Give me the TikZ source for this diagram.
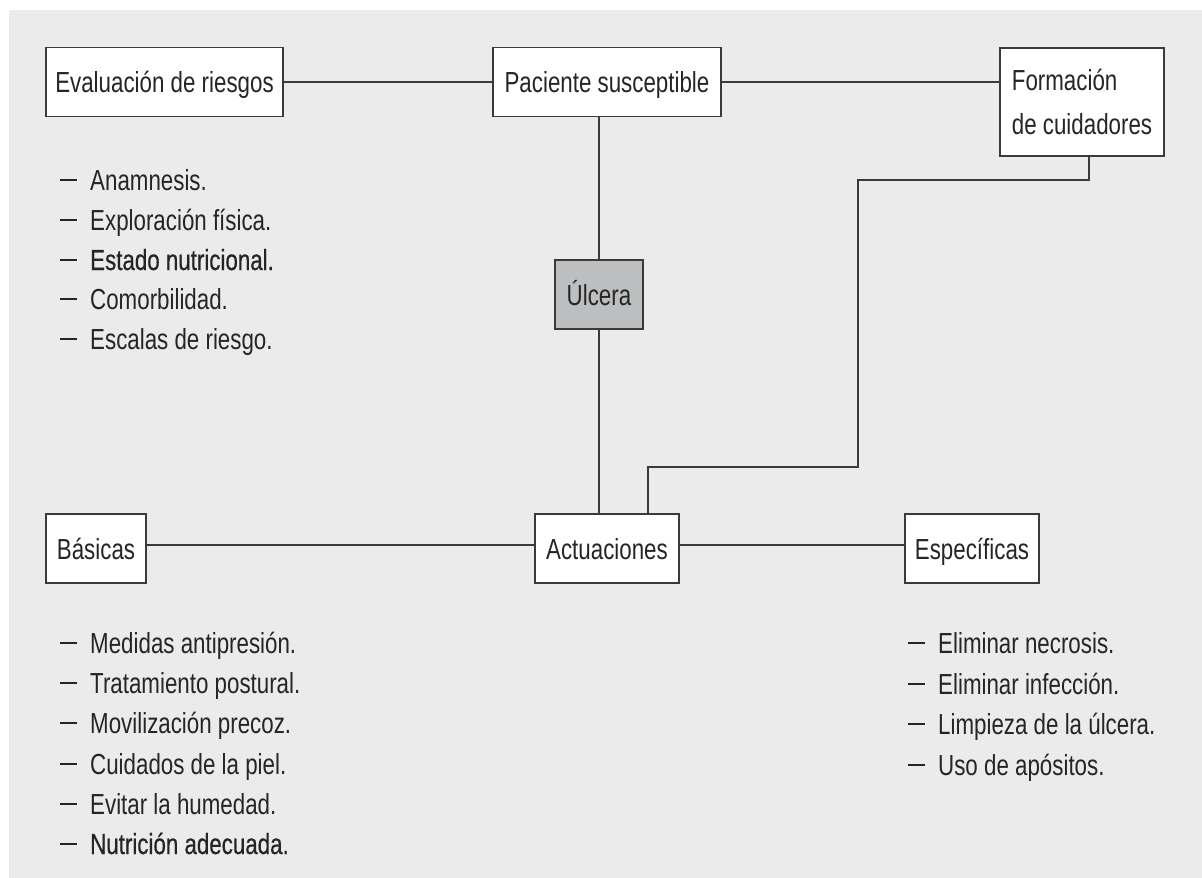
\documentclass[tikz,border=0pt]{standalone}
\usepackage{fontspec}
\setmainfont{Liberation Sans}[FakeStretch=0.77]
\newfontfamily\strongfont{Liberation Sans}[FakeStretch=0.77,FakeBold=0.5]
\definecolor{bg}{HTML}{EBEBEB}
\definecolor{ink}{HTML}{252525}
\definecolor{edge}{HTML}{3A3A3A}
\definecolor{ulcfill}{HTML}{BDBEC0}
\tikzset{
  boxbase/.style={draw=edge, line width=1.8pt, fill=white, inner sep=0pt, text=ink,
    font=\fontsize{29}{44}\selectfont},
  box/.style={boxbase, text height=21pt, text depth=0pt, minimum height=69pt},
  conn/.style={draw=edge, line width=1.8pt},
  item/.style={anchor=base west, inner sep=0pt, text=ink, font=\fontsize{29}{35}\selectfont},
}
\newcommand\dashitem[1]{\rule[9pt]{17pt}{1.8pt}\hspace{13pt}#1}
\begin{document}
\begin{tikzpicture}[x=1pt,y=-1pt]
\useasboundingbox (0,0) rectangle (1202,878);
\fill[bg] (9,10) rectangle (1202,878);

% boxes
\node[box, minimum width=237pt] (eval) at (164.5,82) {Evaluación de riesgos};
\node[box, minimum width=228pt] (pac) at (607,82) {Paciente susceptible};
\node[boxbase, minimum width=164pt, minimum height=108pt, align=left] (form) at (1082,102) {Formación\\de cuidadores};
\node[box, minimum width=88pt, fill=ulcfill] (ulc) at (599,294.5) {Úlcera};
\node[box, minimum width=100pt] (bas) at (96,548.5) {Básicas};
\node[box, minimum width=144pt] (act) at (607,548.5) {Actuaciones};
\node[box, minimum width=134pt] (esp) at (972,548.5) {Específicas};

% connectors
\coordinate (k1) at (858,180);
\coordinate (k2) at (648,467);
\draw[conn] (eval.east) -- (pac.west);
\draw[conn] (pac.east) -- (pac.east -| form.west);
\draw[conn] (ulc.north) -- (ulc.north |- pac.south);
\draw[conn] (ulc.south) -- (ulc.south |- act.north);
\draw[conn] ([xshift=7pt]form.south) |- (k1) |- (k2) -- (k2 |- act.north);
\draw[conn] ([yshift=3.5pt]bas.east) -- ([yshift=3.5pt]act.west);
\draw[conn] ([yshift=3.5pt]act.east) -- ([yshift=3.5pt]esp.west);

% lists
\node[item] (r1) at (60,190) {\dashitem{Anamnesis.}};
\node[item] (r2) at (60,230) {\dashitem{Exploración física.}};
\node[item] (r3) at (60,270) {\dashitem{\strongfont Estado nutricional.}};
\node[item] (r4) at (60,309) {\dashitem{Comorbilidad.}};
\node[item] (r5) at (60,349) {\dashitem{Escalas de riesgo.}};

\node[item] (b1) at (60,653) {\dashitem{Medidas antipresión.}};
\node[item] (b2) at (60,693) {\dashitem{Tratamiento postural.}};
\node[item] (b3) at (60,733) {\dashitem{Movilización precoz.}};
\node[item] (b4) at (60,774) {\dashitem{Cuidados de la piel.}};
\node[item] (b5) at (60,814) {\dashitem{Evitar la humedad.}};
\node[item] (b6) at (60,854) {\dashitem{\strongfont Nutrición adecuada.}};

\node[item] (e1) at (908,653) {\dashitem{Eliminar necrosis.}};
\node[item] (e2) at (908,694) {\dashitem{Eliminar infección.}};
\node[item] (e3) at (908,734) {\dashitem{Limpieza de la úlcera.}};
\node[item] (e4) at (908,775) {\dashitem{Uso de apósitos.}};
\end{tikzpicture}
\end{document}
